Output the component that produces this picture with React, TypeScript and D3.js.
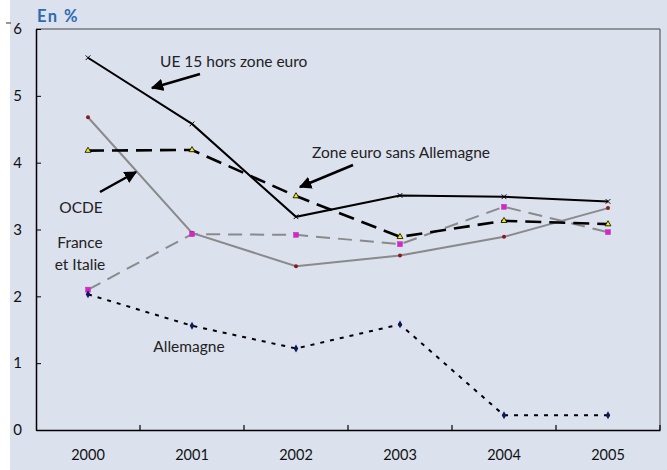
import { useEffect, useRef } from "react";
import * as d3 from "d3";

const years = ["2000", "2001", "2002", "2003", "2004", "2005"];
const yTicks = [0, 1, 2, 3, 4, 5, 6];

const ue15 = [5.57, 4.58, 3.19, 3.51, 3.49, 3.42];
const zoneEuro = [4.18, 4.19, 3.5, 2.89, 3.13, 3.08];
const ocde = [4.68, 2.95, 2.45, 2.61, 2.89, 3.32];
const franceItalie = [2.1, 2.93, 2.92, 2.78, 3.34, 2.96];
const allemagne = [2.03, 1.56, 1.22, 1.58, 0.22, 0.22];

const FONT = "Lato, 'Open Sans', sans-serif";

export default function App() {
  const svgRef = useRef<SVGSVGElement | null>(null);

  useEffect(() => {
    document.body.style.margin = "0";
    if (!svgRef.current) return;
    const svg = d3.select(svgRef.current);
    svg.selectAll("*").remove();

    const W = 667, H = 470;
    const left = 36, right = 660, top = 29, bottom = 430;

    svg.append("rect").attr("x", 10).attr("y", 0).attr("width", W - 10).attr("height", H).attr("fill", "#dce1ee");
    svg.append("line").attr("x1", 6).attr("x2", 11).attr("y1", 23).attr("y2", 23).attr("stroke", "#333");

    const x = d3.scaleBand<string>().domain(years).range([left, right]).padding(0);
    const y = d3.scaleLinear().domain([0, 6]).range([bottom, top]);
    const cx = (i: number) => (x(years[i]) as number) + x.bandwidth() / 2;

    // frame
    svg.append("line").attr("x1", left).attr("x2", right).attr("y1", top).attr("y2", top).attr("stroke", "#444").attr("stroke-width", 1.2);
    svg.append("line").attr("x1", right).attr("x2", right).attr("y1", top).attr("y2", bottom).attr("stroke", "#777").attr("stroke-width", 1.5);

    // axes
    const yAxis = svg.append("g").attr("transform", `translate(${left},0)`)
      .call(d3.axisLeft(y).tickValues(yTicks).tickFormat(d3.format("d")).tickSizeInner(-5).tickSizeOuter(0).tickPadding(14));
    yAxis.select(".domain").attr("stroke", "#000").attr("stroke-width", 1.5);
    yAxis.selectAll("line").attr("stroke", "#000");
    yAxis.selectAll("text").attr("font-family", FONT).attr("font-size", 15).attr("fill", "#111");

    const xAxis = svg.append("g").attr("transform", `translate(0,${bottom})`)
      .call(d3.axisBottom(x).tickSize(0).tickPadding(20));
    xAxis.select(".domain").attr("stroke", "#000").attr("stroke-width", 1.5);
    xAxis.selectAll("text").attr("font-family", FONT).attr("font-size", 14.5).attr("fill", "#111");
    const bounds = years.map((yr) => (x(yr) as number) + x.bandwidth());
    svg.append("g").selectAll("line").data(bounds).enter().append("line")
      .attr("x1", (d) => d).attr("x2", (d) => d).attr("y1", bottom).attr("y2", bottom - 5)
      .attr("stroke", "#000").attr("stroke-width", 1.2);

    svg.append("text").attr("x", 37).attr("y", 22).text("En %")
      .attr("font-family", FONT).attr("font-weight", "bold").attr("font-size", 16.5)
      .attr("letter-spacing", 1.5).attr("fill", "#2b6cb0");

    const line = d3.line<number>().x((_, i) => cx(i)).y((d) => y(d));

    const drawLine = (data: number[], color: string, width: number, dash: string | null) => {
      svg.append("path").datum(data).attr("d", line).attr("fill", "none")
        .attr("stroke", color).attr("stroke-width", width)
        .attr("stroke-dasharray", dash);
    };

    drawLine(ocde, "#8a8a8a", 2, null);
    drawLine(franceItalie, "#8a8a8a", 2, "14,8");
    drawLine(allemagne, "#000", 2, "4,6");
    drawLine(zoneEuro, "#000", 2.6, "16,8");
    drawLine(ue15, "#000", 2, null);

    // markers
    const g = svg.append("g");
    ocde.forEach((d, i) => g.append("circle").attr("cx", cx(i)).attr("cy", y(d)).attr("r", 2).attr("fill", "#8b1a1a"));
    franceItalie.forEach((d, i) => g.append("rect").attr("x", cx(i) - 2.5).attr("y", y(d) - 2.5).attr("width", 5).attr("height", 5).attr("fill", "#e020d0").attr("stroke", "#9a4a9a").attr("stroke-width", 0.5));
    allemagne.forEach((d, i) => g.append("path").attr("d", d3.symbol(d3.symbolDiamond, 18)()).attr("transform", `translate(${cx(i)},${y(d)})`).attr("fill", "#0a1a5a"));
    zoneEuro.forEach((d, i) => g.append("path").attr("d", d3.symbol(d3.symbolTriangle, 15)()).attr("transform", `translate(${cx(i)},${y(d)})`).attr("fill", "#f0f000").attr("stroke", "#000").attr("stroke-width", 0.8));
    ue15.forEach((d, i) => g.append("path").attr("d", d3.symbol(d3.symbolX, 16)()).attr("transform", `translate(${cx(i)},${y(d)})`).attr("fill", "none").attr("stroke", "#000").attr("stroke-width", 1));

    // annotations
    const defs = svg.append("defs");
    defs.append("marker").attr("id", "arr").attr("viewBox", "0 0 10 10").attr("refX", 9).attr("refY", 5)
      .attr("markerWidth", 5).attr("markerHeight", 5).attr("orient", "auto")
      .append("path").attr("d", "M0,0 L10,5 L0,10 z").attr("fill", "#000");

    const arrow = (x1: number, y1: number, x2: number, y2: number) =>
      svg.append("line").attr("x1", x1).attr("y1", y1).attr("x2", x2).attr("y2", y2)
        .attr("stroke", "#000").attr("stroke-width", 2.5).attr("marker-end", "url(#arr)");

    arrow(200, 74, 152, 88);
    arrow(353, 165, 300, 187);
    arrow(100, 192, 136, 172);

    const label = (tx: number, ty: number, s: string, anchor = "start") =>
      svg.append("text").attr("x", tx).attr("y", ty).text(s).attr("text-anchor", anchor)
        .attr("font-family", FONT).attr("font-size", 15.5).attr("fill", "#222");

    label(160, 67, "UE 15 hors zone euro");
    label(312, 158, "Zone euro sans Allemagne");
    label(81, 213, "OCDE", "middle");
    label(80, 248, "France", "middle");
    label(80, 270, "et Italie", "middle");
    label(189, 352, "Allemagne", "middle");
  }, []);

  return <svg ref={svgRef} width={667} height={470} style={{ display: "block", background: "#fff" }} />;
}
